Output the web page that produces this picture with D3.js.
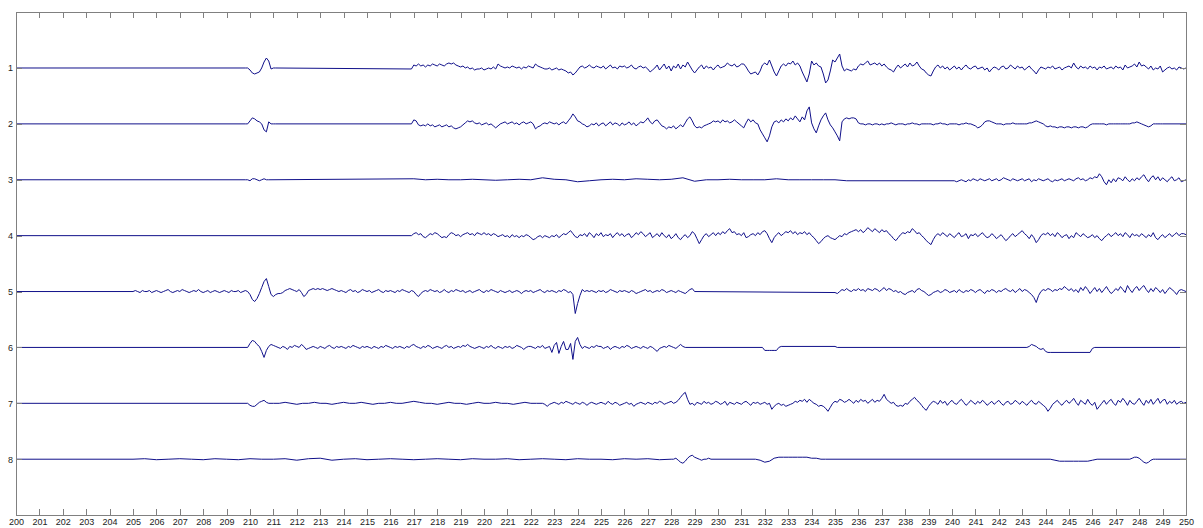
<!DOCTYPE html>
<html>
<head>
<meta charset="utf-8">
<script src="https://cdn.jsdelivr.net/npm/d3@7"></script>
<style>
  html, body { margin: 0; padding: 0; background: #fff; }
  svg { display: block; }
  .axis text { font-family: "Liberation Sans", Arial, sans-serif; font-size: 9px; fill: #222; }
  .axis path, .axis line { stroke: #808080; shape-rendering: crispEdges; }
</style>
</head>
<body>
<svg id="chart"></svg>
<script>
// time range (s) and channel labels
const timeTicks = d3.range(200, 251);
const channels = [1, 2, 3, 4, 5, 6, 7, 8];

// each channel: list of [startTime, step, values]; values are amplitude (µV),
// the trace sits on its baseline (0) between segments
const ch1Segments = [
  [209.8, 0.1, [0, 0, -2, -5, -6, -5, -4, 0, 6, 10, 7, -1, 0, 0]],
  [216.9, 0.1, [-1,
    3, 2, 4, 2, 3, 1, 3, 2, 4, 3,
    2, 4, 3, 2, 4, 5, 4, 5, 3, 2,
    1, 2, 0, 1, -1, 0, -2, -1, -1, 0,
    -2, -1, 0, -1, 1, -1, 4, 2, 1, 0,
    1, 0, 2, 1, 0, 1, -1, 1, 0, 2,
    1, 0, 4, 2, 1, 0, -1, -1, 0, -2,
    -1, 0, -2, -1, -2, -3, -5, -4, -7, -5,
    -2, 1, 2, 0, 1, 3, 1, 0, 2, 1,
    0, 2, -1, 1, 3, 0, 1, -1, 2, 1,
    2, 0, 1, 3, 0, -1, 1, 2, 0, 1,
    -1, -4, -2, 0, 3, -2, 1, 4, -1, 2,
    -3, 2, 0, 4, -1, 3, 1, 6, 2, -2,
    -5, -2, 1, 3, -1, 2, 0, 1, -2, 1,
    3, 0, 1, 2, 5, 3, 2, 4, 1, 2,
    4, 4, 1, -3, -6, -5, -4, -7, -3, 3,
    5, 3, 8, 2, -4, -8, -3, 2, 4, 2,
    5, 4, 7, 3, 5, 2, -4, -9, -14, -6,
    7, 3, 5, 2, 1, -6, -15, -12, -3, 8,
    6, 10, 14, 2, -3, -1, -2, -3, -1, -2,
    2, 4, 3, 5, 7, 3, 4, 5, 3, 5,
    2, 4, 1, -1, -2, -4, 0, 3, 0, 2,
    4, 1, 5, 2, 3, 6, 2, -1, -2, -5,
    -7, -8, -3, 1, 3, 0, 2, -1, 1, -2,
    0, 2, -1, 1, -2, 1, 3, 0, -1, 1,
    2, -1, 0, 1, -2, 0, -4, -1, 1, 0,
    -2, 1, 2, -1, 0, 3, 1, -1, 2, 0,
    1, -2, 0, 2, -1, -3, -6, -2, 1, 0,
    -1, 1, 0, 2, -1, 0, 1, -2, 0, 1,
    2, 0, 5, 1, -1, 2, 0, 1, -1, 2,
    0, 1, -2, 1, 0, 2, -1, 0, 1, -1,
    2, 0, 1, -2, 3, 0, 1, 2, 4, 1,
    6, 2, 3, 1, -1, 2, -2, 0, -1, 2,
    -4, -2, 0, 1, -1, 0, -2, 1, 0, -1,
    0]]
];

const ch2Segments = [
  [209.8, 0.1, [0, 0, 3, 6, 5, 3, 2, 0, -6, -8, 2, 0, 0, 0]],
  [216.9, 0.1, [0,
    4, 3, -1, -2, -1, -2, 0, -2, -1, -3,
    -2, -1, -3, -2, -1, -3, -2, -4, -5, -4,
    -3, -1, 1, 3, 2, 3, 1, 0, 1, -1,
    0, 1, -1, 0, -2, -4, -2, 0, 1, 2,
    0, 1, 2, 0, 1, -1, 1, 2, 0, 1,
    2, 0, -5, -3, -2, 0, 1, 0, 2, 1,
    0, 1, -1, 1, 2, 0, 3, 6, 10, 7,
    3, 2, 0, -1, -3, -2, 0, -1, 1, -2,
    0, 1, -2, 0, 2, -1, 1, 0, -2, 1,
    -1, 0, 2, -1, 1, -2, 0, 2, 1, 3,
    6, 2, 0, 3, 4, 1, -2, -3, -5, -3,
    -4, -2, -5, -3, -1, -3, 1, 5, 7, 3,
    -2, -4, -3, -4, -2, -1, 0, 1, 3, 2,
    3, 1, 4, 2, 3, 1, 2, 4, 2, 0,
    -2, -4, 1, 5, 2, 4, 1, 0, -6, -10,
    -14, -18, -12, -3, 2, 3, 1, 4, 2, 5,
    3, 6, 4, 8, 5, 2, 7, 4, 13, 17,
    1, -5, -9, -2, 4, 8, 11, 4, -1, -4,
    -8, -12, -17, 2, 5, 6, 5, 6, 6, 5,
    1, 0, 0, -1, 0, 0, -1, 0, 0, -1,
    0, -1, 0, 0, 1, 0, -1, 0, 0, 0,
    -1, 0, 0, 1, 0, 0, -1, 0, 0, 0,
    0, 0, -1, 0, 0, 1, 0, 0, -1, 0,
    0, 0, 0, -1, 0, 0, 1, 0, 0, -1,
    -2, -4, -3, -1, 2, 3, 3, 2, 1, 0,
    0, 0, -1, 0, 0, 0, 1, 0, 0, 0,
    0, 0, 0, 1, 1, 2, 3, 2, 1, 0,
    -2, -3, -2, -3, -3, -4, -3, -3, -4, -3,
    -3, -4, -3, -3, -4, -3, -3, -4, -3, -1,
    0, 0, 0, 0, 0, 0, -1, 0, 0, 0,
    0, 0, 0, 0, 0, 0, 0, 1, 1, 2,
    1, 0, -1, -2, -3, -2, 0, 0, 0, 0,
    0]]
];

const ch3Segments = [
  [209.8, 0.1, [0, 0, -1, 1, 1, 0, -1, 0, 1, 0, 0]],
  [217.0, 0.5, [1, 0, 0.5, 0, 0, 0.5, 0, -0.5, 0, 0.5, 0, 2, 0.5, 0, -2, -1, 0, 0.5, 0,
    1, 0.5, 0, 0.5, 2, -1.5, 0, 0, 0.5, 0, 0, 0, 1, 0, 0, 0, 0, 0, -1]],
  [240.0, 0.1, [
    -1, -1, -2, -1, 0, -1, -2, 0, -1, 1,
    0, -1, 1, 0, -1, 0, 1, -1, 0, 1,
    -1, 0, 2, 1, 0, -1, 1, 0, -1, 0,
    1, -1, 0, 1, -2, 0, -1, 1, 0, -1,
    0, 1, -1, -2, 0, -1, 0, 1, -1, 0,
    1, 0, -1, 1, 2, 0, 1, -1, 0, 2,
    1, 3, 2, 6, 3, -2, -5, 0, -3, 1,
    -2, 2, 1, -1, 3, 0, -2, 1, -1, 2,
    0, 3, 5, 1, -2, 2, 4, 0, 3, -1,
    2, 0, -2, 1, 3, -1, 0, 2, -2, -1,
    0]]
];

const ch4Segments = [
  [216.9, 0.1, [0,
    2, 3, 1, 2, -1, -2, 0, 2, 1, 3,
    2, 0, -2, -1, -2, 1, 3, 2, 0, 1,
    -1, 1, 2, 3, 1, 2, 0, 3, 2, 1,
    3, 1, 2, 0, 2, 1, -1, 0, 1, -1,
    0, -2, 1, -1, 0, -2, 0, -1, 1, 0,
    -2, -4, -3, -1, 0, -2, 0, -1, -2, 0,
    -1, 1, -2, 0, 2, 1, 3, 5, 2, -1,
    -2, 1, 0, 2, -1, 3, 1, -2, 2, 0,
    3, -1, 1, 0, 2, -2, 1, 3, 0, 2,
    -1, 1, 2, -2, 0, 3, 1, 4, 2, -1,
    1, 3, -2, 0, 2, -1, 3, 0, -2, 1,
    -3, -1, 2, -2, -4, -1, 1, -2, 0, 4,
    2, -3, -8, -4, 0, 2, -1, 1, 3, 0,
    3, 1, 4, 2, 5, 7, 3, 4, 1, 2,
    0, 3, -2, -1, 1, 2, 0, 3, 1, 4,
    5, 2, -3, -7, -2, 1, 3, 0, 2, 4,
    3, 5, 2, 4, 1, 3, 2, 4, 1, 3,
    0, -2, -5, -8, -6, -3, -1, 0, -2, -3,
    -4, -2, 0, -1, 2, 1, 3, 4, 5, 6,
    4, 6, 3, 5, 8, 6, 4, 7, 5, 3,
    6, 4, 5, 2, 0, -3, -5, -2, 1, 3,
    2, 4, 3, 7, 5, 2, 3, 0, -2, -5,
    -7, -9, -4, 0, 2, 0, 3, 1, -1, 2,
    0, -2, 1, 3, -1, 0, 2, -3, 1, 0,
    2, -1, 1, 3, 0, -2, -1, 2, 0, -3,
    -1, 1, -2, -5, -3, 0, 2, -1, 1, 3,
    5, 2, 0, -3, 1, -2, -7, -4, 0, 2,
    1, 3, 0, 2, -1, 3, 1, -2, 0, 1,
    -3, 0, -2, 3, 1, -1, 2, 0, -2, -1,
    1, -2, 0, -3, -5, -2, 0, 2, -1, 1,
    3, 0, 2, -1, 3, 1, -2, 2, 0, 1,
    -1, 2, 0, -2, 1, -1, 3, -2, -4, -1,
    1, -2, 0, 2, -1, 1, 3, 0, 2, 2,
    1]]
];

const ch5Segments = [
  [205.0, 0.1, [
    0, 1, 0, -1, 1, 0, 0, 1, -1, 0,
    1, 0, -1, 0, 1, 2, 0, -1, 0, 1,
    0, 2, 1, 0, -1, 0, 1, 0, 2, 0,
    -1, 0, 1, -1, 0, 1, 0, -1, 0, 1,
    0, -1, 1, 0, 0, 1, -1, 0, 1, 0,
    -3, -8, -10, -7, -2, 4, 10, 13, 5, -3,
    -5, -3, -2, -2, -1, 1, 2, 3, 2, 1,
    0, 2, -1, -5, -3, 1, 2, 3, 2, 3,
    2, 3, 2, 1, 2, 3, 2, 1, 0, 1,
    0, -1, 1, 2, 0, 1, -1, 0, 2, 1,
    0, 1, -1, 0, 1, 2, 0, -1, 1, 0,
    1, 0, -1, 1, 0, 2, 1, 0, -1, 1,
    0, -3, -5, -2, 0, 1, 0, 2, 1, 0,
    1, -1, 0, 2, 0, -1, 1, 0, 2, 1,
    0, 1, -1, 0, 1, -1, 0, 1, 2, 0,
    -1, 1, 0, 2, 1, 0, -1, 1, 0, -1,
    0, 1, -1, 0, 1, 0, -2, 0, 1, 0,
    1, -1, 0, 1, 2, 0, -1, 1, 0, 1,
    0, -1, 1, 0, 2, 1, -1, 0, -3, -22,
    -12, -4, 2, 0, 1, 0, 1, 0, -1, 1,
    0, 1, -1, 0, 2, 1, 0, -1, 1, 0,
    1, 0, -1, 1, 0, -2, -1, 0, 1, 2,
    0, 1, -1, 0, 1, 0, 2, 1, -1, 0,
    1, 0, -1, 1, 0, -1, -2, 0, 2, 3,
    0]],
  [235.0, 0.1, [
    -1, -2, 0, 2, 1, 3, 1, 0, 2, 1,
    3, 1, 2, 0, 3, 2, 1, 3, 2, 0,
    2, 4, 1, 3, 2, 0, 1, -1, 0, -2,
    -3, -1, 0, 1, -1, 2, 3, 1, 0, -2,
    -4, -3, -1, 0, 1, -1, 0, 2, 1, -1,
    0, 1, -1, 2, 0, -1, 1, 0, 2, 1,
    -1, 1, 2, 0, -2, 1, 0, 2, 1, -1,
    1, 0, 2, 3, 1, 0, 2, -1, 1, 3,
    0, 2, 1, -1, -3, -6, -11, -4, 0, 2,
    1, 3, 2, 0, 2, 1, 3, 2, 5, 3,
    1, 3, 0, 2, -1, 4, 1, 5, 2, -2,
    1, 4, 0, 3, -1, 2, 5, 1, -2, 0,
    3, 1, 5, 2, -1, 6, 2, -1, 3, 5,
    1, 4, 6, 2, -1, 3, 0, 4, 2, -1,
    2, -2, 1, 4, 2, 0, -3, 1, 2, 1,
    0]]
];

const ch6Segments = [
  [209.9, 0.1, [0,
    4, 7, 6, 3, 1, -4, -10, -3, 1, 3,
    2, 1, 0, -1, 1, 0, -2, 1, 0, 2,
    1, 0, 3, 1, -2, -1, 0, 1, 0, -1,
    1, 0, -1, 1, 2, 0, -1, 1, 0, 1,
    0, -1, 1, 0, 2, 1, 0, -1, 1, 0,
    1, 0, -1, 1, 0, -1, 1, 0, 2, 1,
    0, -1, 1, 0, 1, 0, -1, 1, 0, 2,
    3, 1, 0, -1, 1, 0, 2, 1, -1, 0,
    1, 0, -1, 1, 2, 0, 1, -1, 0, 1,
    0, 2, 1, 3, 1, 0, -1, 0, 1, 0,
    -1, 1, 0, 2, 0, -1, 1, 0, -1, 1,
    0, 1, -1, 0, 2, 1, 0, -2, 0, 1,
    1, 0, -1, 1, 0, 2, -1, 0, 1, -5,
    2, 5, -6, 1, 6, -2, -2, 4, -12, 6,
    10, 3, -1, 1, 0, -1, 1, 0, 2, 1,
    1, -1, 0, 1, -2, 0, 1, 0, -1, 1,
    0, 2, 1, -1, 0, 1, 0, -1, 1, 0,
    -1, 1, 0, -2, -4, -1, 0, 1, 0, 2,
    1, 0, -1, 1, 3, 1, 0]],
  [231.9, 0.1, [0, -3, -3, -3, -3, -3, -3, 0, 1]],
  [235.0, 0.1, [1, 0]],
  [243.2, 0.1, [0, 1, 3, 2, 1, -1, -2, -1, -4, -5, -5]],
  [245.9, 0.1, [-5, -1, 0]]
];

const ch7Segments = [
  [209.9, 0.1, [0, -2, -3, -3, -1, 1, 2, 3, 1, 0]],
  [211.0, 0.25, [0, 0, 1, 0, -1, 0, 0, 1, 0, 0, -1, 0, 1, 0, 0, 1, 0, -1, 0, 0,
    1, 0, 0, 1, 2, 1, 0, 0, -1, 0, 1, 0, 0, -1, 0, 1, 0, 0, 1, 0, 0, -1, 0, 1, 0, 0]],
  [222.5, 0.1, [0, -1, -3, -1, 0,
    1, 0, -1, 1, 0, 2, 1, 0, -1, 1,
    0, -1, 1, 0, -2, 0, 1, 0, -1, 0,
    1, 0, -1, 2, 0, -1, 1, 0, -2, -1,
    0, 1, -1, 0, -3, -1, 0, 1, 0, -1,
    1, 0, -1, 1, 0, 2, 1, -1, 0, 1,
    2, 0, 1, 3, 6, 9, 11, 4, -1, 0,
    -2, 1, 0, -1, 2, 0, 1, -1, 0, 2,
    1, -1, 0, 2, -2, 1, 0, -1, 1, 0,
    -1, 1, 2, 0, -2, 1, 0, 1, -1, 0,
    1, -1, 0, -6, -3, -1, 0, -2, -1, -3,
    -2, -1, 0, 2, 1, 3, 2, 4, 1, 4,
    2, 0, -1, -3, -2, -3, -5, -8, -4, 0,
    2, 1, 4, 3, 1, 2, 4, 2, 0, 3,
    1, 4, 2, 3, 0, 2, 4, 1, 3, 2,
    5, 9, 4, 2, 0, 1, -2, -3, -2, -3,
    0, -1, 2, 4, 6, 3, 1, -2, -5, -7,
    -3, 0, 2, 1, -1, 3, 0, 2, -2, 1,
    3, 0, -1, 2, 4, 1, -2, 0, 3, 1,
    -1, 2, 0, 3, 1, -2, 0, 2, -1, 1,
    3, 0, -2, 1, 2, -1, 0, 3, 1, -1,
    2, 0, -2, 1, 3, 0, -1, 2, 0, -2,
    -4, -8, -5, -1, 1, 3, 0, -2, 1, 3,
    0, 2, 5, 1, -2, 3, 1, -1, 4, 0,
    -2, 1, -6, -3, 0, 3, -1, 2, 4, 0,
    -2, 3, 1, 5, 2, -2, 3, 0, -1, 2,
    5, 1, -2, 3, 0, 4, -1, 2, 5, 0,
    3, 4, -1, 2, 0, 3, -1, 1, 2, 0,
    1]]
];

const ch8Segments = [
  [205.0, 0.5, [0, 0.5, -0.5, 0, 0.5, 0, -0.5, 0.5, 0, -0.5, 0.5, 0, 0, 0.5, -1, 0.5, 1, -1, 0, 0.5,
    -0.5, 0, 0.5, 0, -0.5, 0, 0.5, 0, -0.5, 0.5, 0, 0, 0.5, -0.5, 0, 0.5, 0, -0.5, 0.5, 0,
    0, -0.5, 0.5, 0, 0.5, -0.5, 0]],
  [228.1, 0.1, [0, 1, -1, -3, -4, -2, 1, 3, 4, 2, 1, 0, -1, 0, 0, 1, 0]],
  [231.6, 0.2, [0, -1, -3, -2, 1, 2, 2, 2, 2, 2, 2, 2, 1, 1, 0, 0]],
  [244.2, 0.2, [0, -1, -2, -2, -2, -2, -2, -2, -2, -1, 0]],
  [247.6, 0.1, [0, 1, 2, 2, 1, -1, -3, -4, -3, -1, 0, 0, 0]]
];

const traces = [ch1Segments, ch2Segments, ch3Segments, ch4Segments,
                ch5Segments, ch6Segments, ch7Segments, ch8Segments];

const width = 1203, height = 528;
const margin = { left: 16, right: 17, top: 12, bottom: 13 };
const uvPerChannel = 56;   // amplitude units that span one channel spacing

const svg = d3.select("#chart").attr("width", width).attr("height", height);

const x = d3.scaleLinear().domain([200, 250]).range([margin.left, width - margin.right]);
const y = d3.scaleLinear().domain([0, 9]).range([margin.top + 0.1, height - margin.bottom + 0.1]);

svg.append("clipPath").attr("id", "plotClip")
  .append("rect")
  .attr("x", margin.left).attr("y", margin.top)
  .attr("width", width - margin.left - margin.right)
  .attr("height", height - margin.top - margin.bottom);

function buildPoints(segments) {
  const pts = [[200, 0]];
  segments.forEach(([t0, dt, vals]) => {
    vals.forEach((v, i) => pts.push([t0 + i * dt, v]));
  });
  const last = pts[pts.length - 1];
  if (last[0] < 249.999) pts.push([250, 0]);
  return pts;
}

const traceG = svg.append("g").attr("clip-path", "url(#plotClip)");
traces.forEach((segs, i) => {
  const ch = channels[i];
  const line = d3.line()
    .x(d => x(d[0]))
    .y(d => y(ch - d[1] / uvPerChannel));
  traceG.append("path")
    .datum(buildPoints(segs))
    .attr("fill", "none")
    .attr("stroke", "#10108a")
    .attr("stroke-width", 1)
    .attr("stroke-linejoin", "round")
    .attr("d", line);
});

// axes box, MATLAB style with inward ticks
svg.append("g").attr("class", "axis")
  .attr("transform", `translate(0,${height - margin.bottom})`)
  .call(d3.axisBottom(x).tickValues(timeTicks).tickFormat(d3.format("d"))
    .tickSizeInner(-6).tickSizeOuter(0).tickPadding(4));

svg.append("g").attr("class", "axis")
  .attr("transform", `translate(0,${margin.top})`)
  .call(d3.axisTop(x).tickValues(timeTicks).tickFormat("")
    .tickSizeInner(-6).tickSizeOuter(0));

svg.append("g").attr("class", "axis")
  .attr("transform", `translate(${margin.left},0)`)
  .call(d3.axisLeft(y).tickValues(channels).tickFormat(d3.format("d"))
    .tickSizeInner(-6).tickSizeOuter(0).tickPadding(3));

svg.append("g").attr("class", "axis")
  .attr("transform", `translate(${width - margin.right},0)`)
  .call(d3.axisRight(y).tickValues(channels).tickFormat("")
    .tickSizeInner(-6).tickSizeOuter(0));
</script>
</body>
</html>
